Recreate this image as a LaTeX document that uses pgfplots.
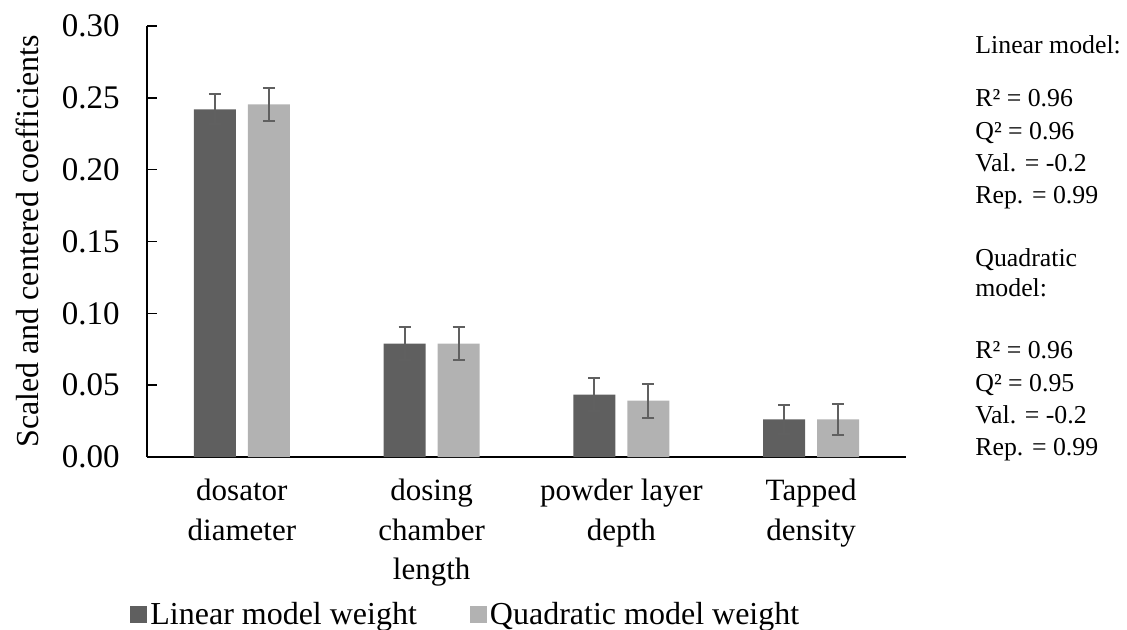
\documentclass[border=0pt]{standalone}
\usepackage{fontspec}
\setmainfont{Liberation Serif}
\usepackage{pgfplots}
\pgfplotsset{compat=1.18}
\definecolor{darkbar}{RGB}{95,95,95}
\definecolor{lightbar}{RGB}{178,178,178}
\definecolor{errcol}{RGB}{96,96,96}
\begin{document}
\begin{tikzpicture}
\begin{axis}[
  scale only axis,
  width=379.5pt, height=215.5pt,
  xmin=-0.5, xmax=3.5,
  ymin=0, ymax=0.30,
  axis x line=bottom, axis y line=left,
  axis line style={-, line width=0.8pt, black},
  ybar=6pt, bar width=21pt,
  xtick={0,1,2,3},
  xticklabels={{dosator\\diameter},{dosing\\chamber\\length},{powder layer\\depth},{Tapped\\density}},
  xtick style={draw=none},
  xticklabel style={anchor=north, inner sep=0pt, yshift=-11pt, align=center, font=\fontsize{15.5}{19.75}\selectfont},
  ytick={0,0.05,0.10,0.15,0.20,0.25,0.30},
  tick align=inside, major tick length=5pt,
  ytick style={line width=0.8pt, black},
  /pgf/number format/assume math mode=true,
  yticklabel style={/pgf/number format/.cd, fixed, fixed zerofill, precision=2, /tikz/.cd, anchor=east, inner sep=0pt, xshift=-13.5pt, font=\fontsize{16.5}{19}\selectfont},
  legend columns=2,
  legend style={at={(axis description cs:-0.0224,-0.3654)}, anchor=west, draw=none, fill=none, inner sep=0pt,
    font=\fontsize{16}{19}\selectfont,
    nodes={inner sep=1.5pt},
    /tikz/every even column/.append style={column sep=25pt}},
  legend image code/.code={\fill[#1] (0pt,-4.25pt) rectangle (8.5pt,4.25pt);},
  clip=false,
]
\addplot[fill=darkbar, draw=none,
  error bars/.cd, y dir=both, y explicit,
  error bar style={line width=1pt, errcol},
  error mark options={rotate=90, mark size=3pt, line width=1pt, errcol}]
  coordinates {(0,0.242) +- (0,0.0105) (1,0.079) +- (0,0.0115) (2,0.0434) +- (0,0.0115) (3,0.0262) +- (0,0.0103)};
\addlegendentry{Linear model weight}
\addplot[fill=lightbar, draw=none,
  error bars/.cd, y dir=both, y explicit,
  error bar style={line width=1pt, errcol},
  error mark options={rotate=90, mark size=3pt, line width=1pt, errcol}]
  coordinates {(0,0.2455) +- (0,0.0115) (1,0.079) +- (0,0.0118) (2,0.0392) +- (0,0.0118) (3,0.0262) +- (0,0.011)};
\addlegendentry{Quadratic model weight}
\end{axis}
\node[rotate=90, font=\fontsize{16}{19}\selectfont, inner sep=0pt] at (-60pt,107.75pt) {Scaled and centered coefficients};
\begin{scope}[every node/.style={anchor=base west, inner sep=0pt, font=\fontsize{12.9}{15}\selectfont}]
\node at (414pt,201.7pt) {Linear model:};
\node at (414pt,175.2pt) {R² = 0.96};
\node at (414pt,158.7pt) {Q² = 0.96};
\node at (414pt,142.7pt) {Val. = -0.2};
\node at (414pt,126.7pt) {Rep. = 0.99};
\node at (414pt,95.2pt) {Quadratic};
\node at (414pt,80.2pt) {model:};
\node at (414pt,49.2pt) {R² = 0.96};
\node at (414pt,32.7pt) {Q² = 0.95};
\node at (414pt,16.7pt) {Val. = -0.2};
\node at (414pt,0.7pt) {Rep. = 0.99};
\end{scope}
\pgfresetboundingbox
\useasboundingbox (-73.5pt,-86.5pt) rectangle (490pt,228.5pt);
\end{tikzpicture}
\end{document}
